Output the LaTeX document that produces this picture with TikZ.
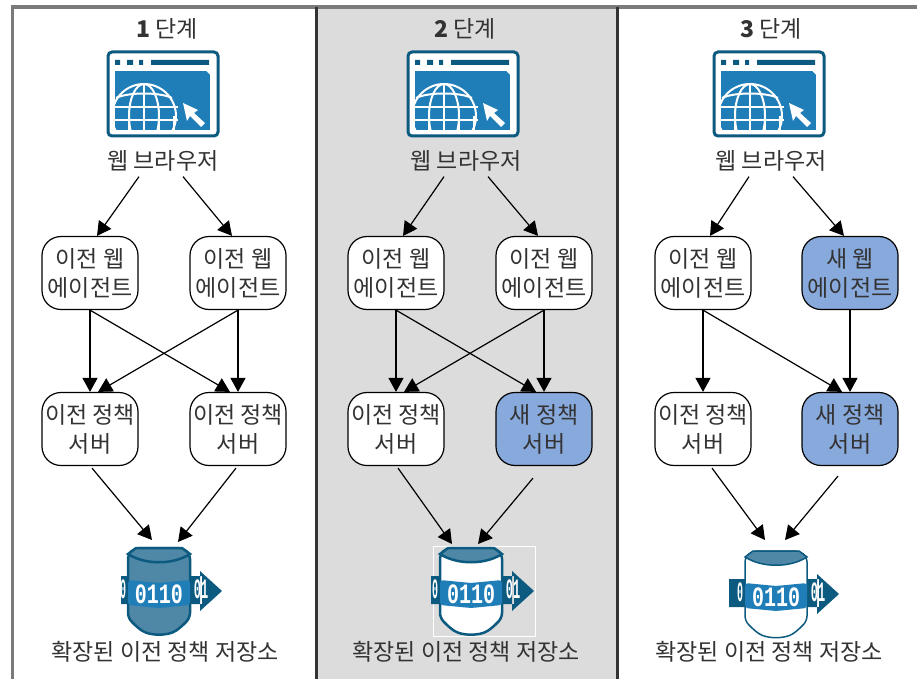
\documentclass[tikz,border=0pt]{standalone}
\usepackage{fontspec}
\setmainfont{Noto Sans CJK KR}
\newfontfamily\digitfont{Liberation Mono}
\usepackage{xcolor}
\definecolor{cpanel}{HTML}{DCDCDC}
\definecolor{cframe}{HTML}{7A7A7A}
\definecolor{cnew}{HTML}{88A9DC}
\definecolor{cicon}{HTML}{0D5A80}
\definecolor{cblue}{HTML}{1F7DB8}
\definecolor{csteel}{HTML}{4F87A6}
\definecolor{ctext}{HTML}{333333}
\usetikzlibrary{arrows.meta}
\tikzset{
Label/.style={
	text=ctext,
	font=\fontsize{23}{27}\selectfont,
	inner sep=0pt
},
Box/.style={
	draw=black, line width=1.2pt,
	rounded corners=19pt,
	minimum width=96pt,
	minimum height=73pt,
	inner sep=0pt,
	align=center,
	fill=white,
	text=ctext,
	font=\fontsize{23}{29}\selectfont
},
NewBox/.style={
	Box,
	fill=cnew
},
Edge/.style={
	draw=black, line width=1.2pt,
	-{Triangle[length=14pt,width=15pt]}
},
Digits/.style={
	text=white,
	inner sep=0pt,
	yscale=1.4,
	font=\digitfont\bfseries\fontsize{20}{20}\selectfont
},
pics/Browser/.style={code={
	\draw[cicon, line width=3pt, fill=white, rounded corners=4pt] (0,0) rectangle (110,84);
	\fill[cicon] (7,8) rectangle (12,13) (19,8) rectangle (25,13) (31,8) rectangle (35,13) (43,8) rectangle (101,13);
	\begin{scope}
		\clip (7,19) -- (98,19) -- (102,23) -- (102,78) -- (7,78) -- cycle;
		\fill[cblue] (7,19) rectangle (102,78);
		\draw[white, line width=2pt] (36,64) circle (32);
		\draw[white, line width=2pt] (36,64) ellipse (15 and 32);
		\draw[white, line width=2pt] (36,32) -- (36,78) (21,64) -- (21,78) (51,64) -- (51,78) (66,64) -- (66,78) (6,64) -- (6,78);
		\draw[white, line width=2pt] (0,55) -- (70,55) (0,68) -- (70,68);
		\draw[white, line width=2pt] (8,46) .. controls (20,40) and (52,40) .. (64,46);
	\end{scope}
	\fill[white] (75,51) -- (90,58) -- (86,61) -- (97,71) -- (93,75) -- (82,64) -- (79,69) -- cycle;
}},
pics/DataStore/.style n args={4}{code={
	\coordinate (in) at (31,0);
	% tape behind the drum
	\fill[cicon] (#4,28) rectangle (74,56) (72,23) -- (94,43) -- (72,63) -- cycle;
	\node[Digits, xscale=.5] (left) at (-5,41) {0};
	\node[Digits, xscale=.6] (right) at (73,41) {01};
	\draw[cicon, line width=#3, fill=#1, rounded corners=5pt] (0,6) -- (0,70) -- (10,80) .. controls (22,88) and (40,88) .. (52,80) -- (62,70) -- (62,6) -- (54,0) -- (8,0) -- cycle;
	\draw[cicon, line width=#3, fill=#2] (0,6) -- (8,0) -- (54,0) -- (62,6) .. controls (45,17) and (17,17) .. (0,6) -- cycle;
	\fill[cblue, rounded corners=3pt] (0,32) -- (31,35) -- (62,32) -- (62,57) -- (31,60) -- (0,57) -- cycle;
	\node[Digits] (front) at (31,46) {0110};
}}
}

\begin{document}
\begin{tikzpicture}[x=1pt, y=-1pt]
	\useasboundingbox (0,0) rectangle (917,679);
	\fill[cpanel] (316,9) rectangle (617,679);
	\draw[cframe, line width=3.5pt] (12.5,679) -- (12.5,7) -- (917,7);
	\draw[black!80, line width=3pt] (316,7) -- (316,679);
	\draw[black!80, line width=3pt] (617,7) -- (617,679);

	% first stage
	\node[Label] (Title1) at (167,29) {\textbf{1} 단계};
	\pic (Icon1) at (108,52) {Browser};
	\node[Label] (Web1) at (163,161) {웹 브라우저};
	\node[Box] (AgentL1) at (90,273) {이전 웹\\에이전트};
	\node[Box] (AgentR1) at (238,273) {이전 웹\\에이전트};
	\node[Box] (ServerL1) at (90,429) {이전 정책\\서버};
	\node[Box] (ServerR1) at (238,429) {이전 정책\\서버};
	\pic (Store1) at (128,548) {DataStore={csteel}{csteel}{2.5pt}{-7}};
	\node[Label] (Repo1) at (165,652) {확장된 이전 정책 저장소};

	\draw[Edge] ([xshift=-24pt,yshift=-5pt]Web1.south) -- ([xshift=7pt]AgentL1.north);
	\draw[Edge] ([xshift=20pt,yshift=-5pt]Web1.south) -- ([xshift=-6pt]AgentR1.north);
	\draw[Edge] (AgentL1.south) -- (ServerL1.north);
	\draw[Edge] (AgentL1.south) -- ([xshift=-8pt]ServerR1.north);
	\draw[Edge] (AgentR1.south) -- ([xshift=8pt]ServerL1.north);
	\draw[Edge] (AgentR1.south) -- (ServerR1.north);
	\draw[Edge] ([xshift=2pt,yshift=-2pt]ServerL1.south) -- ([xshift=-7pt,yshift=8pt]Store1in);
	\draw[Edge] ([xshift=-2pt,yshift=-2pt]ServerR1.south) -- ([xshift=19pt,yshift=6pt]Store1in);

	% second stage
	\node[Label] (Title2) at (465,29) {\textbf{2} 단계};
	\pic (Icon2) at (408,52) {Browser};
	\node[Label] (Web2) at (466,161) {웹 브라우저};
	\node[Box] (AgentL2) at (396,273) {이전 웹\\에이전트};
	\node[Box] (AgentR2) at (544,273) {이전 웹\\에이전트};
	\node[Box] (ServerL2) at (396,429) {이전 정책\\서버};
	\node[NewBox] (ServerR2) at (544,429) {새 정책\\서버};
	\draw[white] (433,546) rectangle (535,636);
	\pic (Store2) at (440,548) {DataStore={white}{csteel}{2.5pt}{-9}};
	\node[Label] (Repo2) at (466,652) {확장된 이전 정책 저장소};

	\draw[Edge] ([xshift=-22pt,yshift=-5pt]Web2.south) -- ([xshift=7pt]AgentL2.north);
	\draw[Edge] ([xshift=22pt,yshift=-5pt]Web2.south) -- ([xshift=-6pt]AgentR2.north);
	\draw[Edge] (AgentL2.south) -- (ServerL2.north);
	\draw[Edge] (AgentL2.south) -- ([xshift=-8pt]ServerR2.north);
	\draw[Edge] (AgentR2.south) -- ([xshift=8pt]ServerL2.north);
	\draw[Edge] (AgentR2.south) -- (ServerR2.north);
	\draw[Edge] ([xshift=2pt,yshift=-2pt]ServerL2.south) -- ([xshift=-19pt,yshift=4pt]Store2in);
	\draw[Edge] ([xshift=-11pt,yshift=-12pt]ServerR2.south) -- ([xshift=7pt,yshift=4pt]Store2in);

	% third stage
	\node[Label] (Title3) at (771,29) {\textbf{3} 단계};
	\pic (Icon3) at (714,52) {Browser};
	\node[Label] (Web3) at (771,161) {웹 브라우저};
	\node[Box] (AgentL3) at (703,273) {이전 웹\\에이전트};
	\node[NewBox] (AgentR3) at (850,273) {새 웹\\에이전트};
	\node[Box] (ServerL3) at (703,429) {이전 정책\\서버};
	\node[NewBox] (ServerR3) at (850,429) {새 정책\\서버};
	\pic (Store3) at (745,551) {DataStore={white}{csteel}{1.5pt}{-16}};
	\node[Label] (Repo3) at (769,652) {확장된 이전 정책 저장소};

	\draw[Edge] ([xshift=-22pt,yshift=-5pt]Web3.south) -- ([xshift=7pt]AgentL3.north);
	\draw[Edge] ([xshift=22pt,yshift=-5pt]Web3.south) -- ([xshift=-6pt]AgentR3.north);
	\draw[Edge] (AgentL3.south) -- (ServerL3.north);
	\draw[Edge] (AgentL3.south) -- ([xshift=-8pt]ServerR3.north);
	\draw[Edge] (AgentR3.south) -- (ServerR3.north);
	\draw[Edge] ([xshift=9pt,yshift=-2pt]ServerL3.south) -- ([xshift=-11pt,yshift=11pt]Store3in);
	\draw[Edge] ([xshift=-12pt,yshift=-10pt]ServerR3.south) -- ([xshift=9pt,yshift=11pt]Store3in);
\end{tikzpicture}
\end{document}
